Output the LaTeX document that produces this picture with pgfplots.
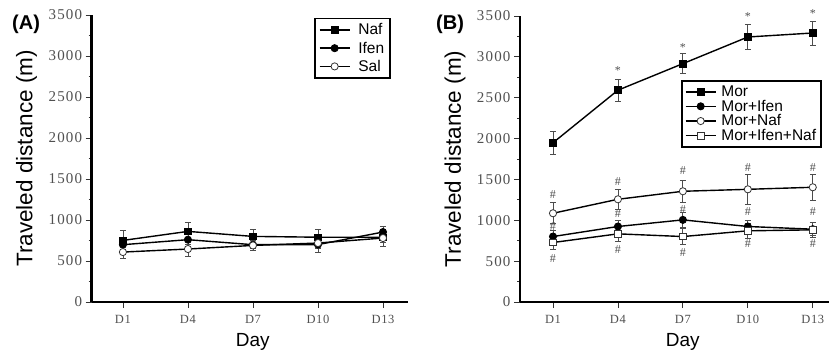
\documentclass[border=0pt]{standalone}
\usepackage{pgfplots}
\pgfplotsset{compat=1.18}
\usepackage{fontspec}
\setmainfont{Liberation Sans}
\newfontfamily\serifnum[LetterSpace=8]{Liberation Serif}
\newfontfamily\serifx[LetterSpace=5]{Liberation Serif}
\newfontfamily\serifsym{Liberation Serif}
\definecolor{tickgray}{HTML}{505050}
\pgfplotsset{
  myaxis/.style={
    scale only axis,
    anchor=south west,
    axis lines*=left,
    axis line style={-, line width=2.5pt, black},
    ymin=0, ymax=3500,
    ytick={0,500,...,3500},
    minor y tick num=1,
    xtick={0,1,2,3,4},
    xticklabels={D1,D4,D7,D10,D13},
    tick align=outside,
    major tick length=6pt,
    minor tick length=3pt,
    tick style={line width=0.8pt, black!80},
    /pgf/number format/assume math mode=true,
    /pgf/number format/1000 sep={},
    yticklabel style={font=\fontsize{15}{15}\selectfont\serifnum, text=tickgray, xshift=0pt},
    xticklabel style={font=\fontsize{12.5}{12.5}\selectfont\serifx, text=tickgray, yshift=-4pt},
    ylabel style={font=\fontsize{22.5}{22.5}\selectfont},
    xlabel style={font=\fontsize{19}{19}\selectfont},
    clip=false,
    legend cell align=left,
    legend style={font=\fontsize{15.5}{15.5}\selectfont, draw=black, line width=1.5pt, inner xsep=3pt, inner ysep=3pt},
    legend image code/.code={
      \draw[mark repeat=2, mark phase=2, #1] plot coordinates {(0pt,0pt) (15pt,0pt) (30pt,0pt)};
    },
    every axis plot/.append style={line width=1.4pt, black},
    error bars/y dir=both,
    error bars/y explicit,
    error bars/error mark options={rotate=90, mark size=3pt, line width=0.8pt, black!70},
    error bars/error bar style={line width=0.8pt, black!70},
  },
  sqf/.style={mark=square*, mark size=3.3pt, mark options={fill=black, solid, line width=0.8pt}},
  cif/.style={mark=*, mark size=3.6pt, mark options={fill=black, solid, line width=0.8pt}},
  cio/.style={mark=*, mark size=3.6pt, mark options={fill=white, draw=black!80, solid, line width=0.8pt}},
  sqo/.style={mark=square*, mark size=3.3pt, mark options={fill=white, draw=black!80, solid, line width=0.8pt}},
  sym/.style={only marks, mark=text, text mark={\textcolor{tickgray}{\fontsize{12}{12}\selectfont\serifsym #1}}, forget plot},
}
\begin{document}
\begin{tikzpicture}
\path[use as bounding box] (0,0) rectangle (829pt,356pt);
% Panel A
\begin{axis}[myaxis,
  at={(91.7pt,54pt)}, width=316pt, height=287pt,
  xmin=-0.48, xmax=4.38,
  ylabel={Traveled distance (m)},
  ylabel style={at={(axis description cs:-0.206,0.5)}, anchor=center},
  xlabel={Day},
  xlabel style={at={(axis description cs:0.51,-0.139)}, anchor=center},
  legend style={at={(axis description cs:0.947,0.99)}, anchor=north east, row sep=1.5pt, inner xsep=4pt},
]
\addplot[sqf] coordinates {(0,751) +- (0,120) (1,861) +- (0,115) (2,800) +- (0,90) (3,790) +- (0,93) (4,790) +- (0,60)};
\addlegendentry{\hspace{6pt}Naf}
\addplot[cif] coordinates {(0,699) +- (0,60) (1,760) +- (0,60) (2,699) +- (0,50) (3,700) +- (0,90) (4,853) +- (0,70)};
\addlegendentry{\hspace{6pt}Ifen}
\addplot[cio] coordinates {(0,609) +- (0,73) (1,646) +- (0,90) (2,690) +- (0,60) (3,719) +- (0,60) (4,780) +- (0,100)};
\addlegendentry{\hspace{6pt}Sal}
\end{axis}
% Panel B
\begin{axis}[myaxis,
  at={(520pt,54pt)}, width=309pt, height=286pt,
  xmin=-0.508, xmax=4.25,
  ylabel={Traveled distance (m)},
  ylabel style={at={(axis description cs:-0.21,0.5)}, anchor=center},
  xlabel={Day},
  xlabel style={at={(axis description cs:0.527,-0.14)}, anchor=center},
  legend style={at={(axis description cs:0.977,0.776)}, anchor=north east, row sep=-2pt, inner xsep=3pt},
]
\addplot[sqf] coordinates {(0,1949) +- (0,142) (1,2592) +- (0,138) (2,2917) +- (0,122) (3,3243) +- (0,150) (4,3292) +- (0,146)};
\addlegendentry{\hspace{3pt}Mor}
\addplot[cif] coordinates {(0,801) +- (0,80) (1,924) +- (0,80) (2,1005) +- (0,90) (3,924) +- (0,80) (4,891) +- (0,80)};
\addlegendentry{\hspace{3pt}Mor+Ifen}
\addplot[cio] coordinates {(0,1086) +- (0,130) (1,1257) +- (0,126) (2,1355) +- (0,138) (3,1379) +- (0,187) (4,1404) +- (0,158)};
\addlegendentry{\hspace{3pt}Mor+Naf}
\addplot[sqo] coordinates {(0,728) +- (0,90) (1,834) +- (0,90) (2,801) +- (0,100) (3,871) +- (0,90) (4,883) +- (0,90)};
\addlegendentry{\hspace{3pt}Mor+Ifen+Naf}
\addplot[sym={*}, error bars/y dir=none] coordinates {(1,2836) (2,3112) (3,3487) (4,3527)};
\addplot[sym={\#}, error bars/y dir=none] coordinates {(0,1310) (0,923) (0,537) (1,1473) (1,1086) (1,639) (2,1603) (2,1127) (2,610) (3,1644) (3,1107) (3,720) (4,1644) (4,1107) (4,720)};
\end{axis}
\node[anchor=west, font=\fontsize{20}{20}\selectfont\bfseries, inner sep=0pt] at (12pt,332pt) {(A)};
\node[anchor=west, font=\fontsize{20}{20}\selectfont\bfseries, inner sep=0pt] at (436pt,332pt) {(B)};
\end{tikzpicture}
\end{document}
